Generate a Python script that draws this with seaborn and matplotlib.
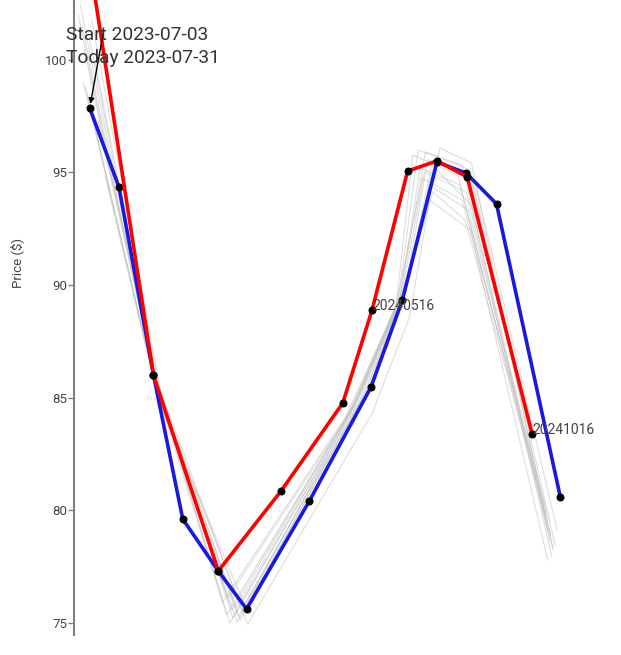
import pandas as pd
import numpy as np
import matplotlib
matplotlib.use("Agg")
import matplotlib.pyplot as plt
import seaborn as sns

# curve as of today (blue)
today_dates = ["2023-08-20", "2023-09-17", "2023-10-20", "2023-11-17", "2023-12-21", "2024-01-17",
               "2024-03-17", "2024-05-15", "2024-06-14", "2024-07-17", "2024-08-14", "2024-09-12",
               "2024-11-12"]
today_prices = [97.85, 94.34, 86.00, 79.61, 77.31, 75.62, 80.41, 85.47, 89.33, 95.45, 94.96, 93.59, 80.59]

# curve at start (red)
start_dates = ["2023-08-14", "2023-10-20", "2023-12-21", "2024-02-19", "2024-04-18", "2024-05-16",
               "2024-06-19", "2024-07-17", "2024-08-15", "2024-10-16"]
start_prices = [106.10, 86.00, 77.31, 80.86, 84.76, 88.89, 95.05, 95.50, 94.79, 83.39]

# intermediate curves (grey)
gray_dates = [
    ["2023-08-11", "2023-10-23", "2024-01-01", "2024-04-27", "2024-06-10", "2024-06-29", "2024-08-10", "2024-11-04"],
    ["2023-08-13", "2023-10-21", "2024-01-04", "2024-04-30", "2024-06-12", "2024-07-06", "2024-08-18", "2024-11-05"],
    ["2023-08-16", "2023-10-24", "2024-01-09", "2024-05-04", "2024-06-15", "2024-07-20", "2024-08-19", "2024-10-31"],
    ["2023-08-14", "2023-10-26", "2023-12-29", "2024-04-23", "2024-06-08", "2024-06-24", "2024-08-06", "2024-11-02"],
    ["2023-08-20", "2023-10-22", "2023-12-25", "2024-04-20", "2024-06-07", "2024-07-03", "2024-08-10", "2024-10-28"],
    ["2023-08-25", "2023-10-25", "2024-01-07", "2024-05-02", "2024-06-14", "2024-07-10", "2024-08-16", "2024-11-01"],
    ["2023-08-09", "2023-10-20", "2024-01-13", "2024-05-06", "2024-06-16", "2024-07-13", "2024-08-13", "2024-11-03"],
    ["2023-09-04", "2023-10-26", "2024-01-15", "2024-05-10", "2024-06-17", "2024-07-08", "2024-08-18", "2024-11-07"],
    ["2023-08-18", "2023-10-21", "2023-12-30", "2024-04-25", "2024-06-11", "2024-07-01", "2024-08-08", "2024-10-29"],
    ["2023-08-22", "2023-10-28", "2024-01-11", "2024-05-08", "2024-06-15", "2024-07-16", "2024-08-22", "2024-11-09"],
    ["2023-08-15", "2023-10-23", "2024-01-03", "2024-04-29", "2024-06-13", "2024-07-05", "2024-08-14", "2024-10-30"],
    ["2023-08-30", "2023-10-27", "2024-01-08", "2024-05-12", "2024-06-18", "2024-07-12", "2024-08-19", "2024-11-05"],
    ["2023-08-28", "2023-10-31", "2024-01-18", "2024-05-16", "2024-06-21", "2024-07-10", "2024-08-18", "2024-10-31"],
]
gray_prices = [
    [102.42, 85.56, 75.00, 84.45, 89.33, 95.98, 95.32, 77.93],
    [101.44, 85.78, 75.22, 84.67, 89.55, 95.90, 95.10, 78.33],
    [98.78, 85.12, 75.27, 84.89, 89.77, 96.07, 95.41, 79.12],
    [98.96, 84.89, 75.36, 84.23, 89.11, 95.76, 94.88, 78.68],
    [100.87, 85.87, 75.93, 84.09, 88.89, 94.74, 93.77, 80.23],
    [99.98, 85.34, 75.67, 84.98, 89.42, 94.43, 93.32, 79.57],
    [101.97, 86.14, 75.49, 85.25, 89.68, 94.12, 92.88, 78.90],
    [94.79, 84.67, 75.84, 85.25, 89.86, 95.54, 94.88, 78.46],
    [98.43, 85.65, 76.11, 84.36, 89.24, 95.19, 94.43, 79.79],
    [101.75, 84.98, 75.13, 85.12, 89.68, 95.63, 94.65, 79.12],
    [100.42, 85.43, 75.58, 84.72, 89.51, 95.01, 94.12, 79.35],
    [96.87, 84.80, 75.04, 85.34, 89.91, 95.32, 93.54, 78.24],
    [97.32, 84.45, 74.95, 84.30, 88.60, 93.77, 92.43, 77.79],
]

start_label = "Start 2023-07-03"
today_label = "Today 2023-07-31"
point_labels = ["2024-05-16", "2024-10-16"]

today_df = pd.DataFrame({"date": pd.to_datetime(today_dates), "price": today_prices})
start_df = pd.DataFrame({"date": pd.to_datetime(start_dates), "price": start_prices})
rows = []
for i, (ds, ps) in enumerate(zip(gray_dates, gray_prices)):
    for d, p in zip(ds, ps):
        rows.append({"curve": i, "date": pd.Timestamp(d), "price": p})
gray_df = pd.DataFrame(rows)

sns.set_style("white")
plt.rcParams["font.family"] = ["Roboto", "DejaVu Sans"]

fig = plt.figure(figsize=(6.21, 6.55), dpi=100)
ax = fig.add_axes([74 / 621, 20 / 655, 547 / 621, 635 / 655])

sns.lineplot(data=gray_df, x="date", y="price", units="curve", estimator=None,
             color="#bdbdbd", lw=0.8, alpha=0.5, ax=ax, legend=False)
sns.lineplot(data=today_df, x="date", y="price", color="#1a1adf", lw=2.6, ax=ax,
             marker="o", markersize=5, markerfacecolor="black", markeredgecolor="black")
sns.lineplot(data=start_df, x="date", y="price", color="#ff0000", lw=2.6, ax=ax,
             marker="o", markersize=5, markerfacecolor="black", markeredgecolor="black")

# annotations for the two curves
tail = (pd.Timestamp("2023-09-02"), 101.18)
ax.annotate("", xy=(start_df["date"][0], start_df["price"][0]), xytext=tail,
            arrowprops=dict(arrowstyle="-|>", color="black", lw=1, mutation_scale=8,
                            shrinkA=0, shrinkB=3))
ax.annotate("", xy=(today_df["date"][0], today_df["price"][0]), xytext=tail,
            arrowprops=dict(arrowstyle="-|>", color="black", lw=1, mutation_scale=8,
                            shrinkA=0, shrinkB=3))
ax.text(pd.Timestamp("2023-07-28"), 101.09, start_label, ha="left", va="center",
        fontsize=13.8, color="#333333", clip_on=False)
ax.text(pd.Timestamp("2023-07-28"), 100.07, today_label, ha="left", va="center",
        fontsize=13.8, color="#333333", clip_on=False)

for lab in point_labels:
    d = pd.Timestamp(lab)
    p = start_df.loc[start_df["date"] == d, "price"].iloc[0]
    ax.annotate(d.strftime("%Y%m%d"), xy=(d, p), xytext=(0.5, 3), textcoords="offset points",
                ha="left", va="center", fontsize=10, color="#444444")

ax.set_xlim(pd.Timestamp("2023-08-05"), pd.Timestamp("2025-01-09"))
ax.set_ylim(74.47, 102.64)
ax.set_yticks([75, 80, 85, 90, 95, 100])
ax.xaxis.set_visible(False)
for s in ["top", "right", "bottom"]:
    ax.spines[s].set_visible(False)
ax.spines["left"].set_color("#808080")
ax.spines["left"].set_linewidth(1.5)
ax.tick_params(axis="y", length=4, width=1, color="#808080", labelsize=9.5,
               labelcolor="#444444", pad=1, left=True)
ax.set_ylabel("Price ($)", fontsize=9.5, color="#444444")
ax.yaxis.set_label_coords(-0.091, 0.586)

fig.savefig("out.png", dpi=100)
